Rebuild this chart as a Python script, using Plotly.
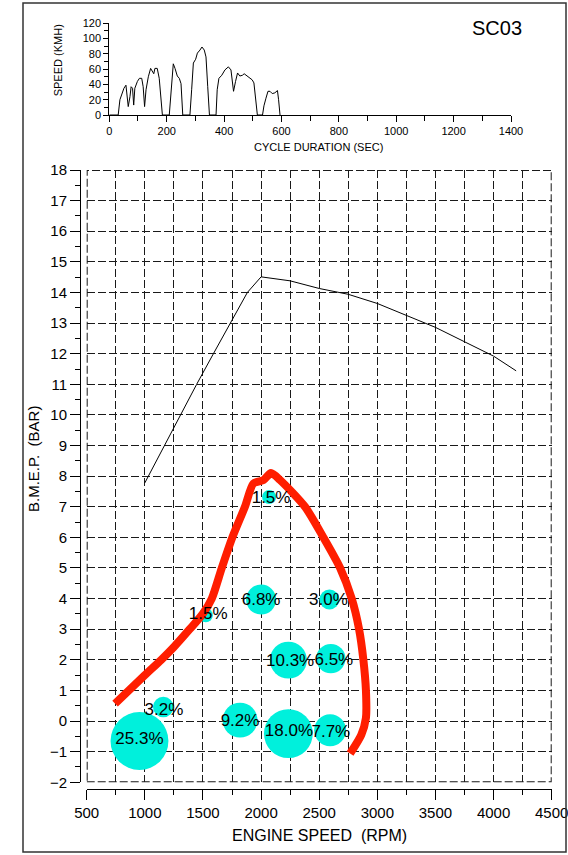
import plotly.graph_objects as go

# ---------------- data ----------------
# drive cycle speed trace (top chart)
cycle_time = [0, 31, 37, 43, 51, 58, 63, 66, 72, 76, 81, 85, 89, 98, 105, 113, 118, 123, 128, 136, 144,
              151, 155, 159, 167, 174, 180, 185, 209, 214, 218, 223, 229, 237, 244, 250, 256, 281, 287,
              293, 301, 307, 316, 323, 331, 337, 343, 349, 372, 376, 382, 392, 403, 415, 424, 429, 433,
              440, 447, 455, 464, 470, 481, 490, 498, 504, 511, 516, 534, 539, 546, 553, 560, 568, 577,
              586, 590, 595]
cycle_speed = [0, 0, 20, 26, 35, 39, 24, 11, 24, 37, 35, 13, 35, 44, 48, 48, 37, 11, 33, 50, 61,
               57, 54, 61, 61, 48, 20, 0, 0, 28, 50, 67, 61, 51, 48, 41, 0, 0, 33,
               68, 73, 81, 85, 89, 85, 76, 37, 0, 0, 33, 48, 52, 59, 63, 59, 46, 31,
               44, 55, 51, 52, 54, 51, 48, 46, 42, 20, 0, 0, 12, 22, 31, 31, 28, 29,
               32, 20, 0]

# full-load BMEP curve
torque_rpm = [1000, 1167, 1304, 1446, 1590, 1739, 1882, 2000, 2250, 2500, 2750, 3000, 3250, 3500, 3750, 4000, 4194]
torque_bmep = [7.78, 9.0, 10.0, 11.0, 12.0, 13.0, 14.0, 14.51, 14.38, 14.13, 13.94, 13.64, 13.26, 12.86, 12.39, 11.92, 11.44]

# red envelope
red_rpm = [744, 1000, 1141, 1250, 1386, 1500, 1576, 1662, 1753, 1861, 1934, 2020, 2086, 2164, 2378, 2536, 2680, 2780, 2843, 2880, 2902, 2902, 2862, 2766]
red_bmep = [0.57, 1.5, 2.0, 2.42, 3.0, 3.51, 4.0, 5.0, 6.0, 7.0, 7.76, 7.87, 8.1, 7.87, 7.0, 6.0, 5.0, 4.0, 3.0, 2.0, 1.0, 0.1, -0.45, -1.06]

# operating-point bubbles (time share, %)
bubble_pct = [25.3, 3.2, 9.2, 18.0, 10.3, 6.8, 1.5, 1.5, 3.0, 6.5, 7.7]
bubble_rpm = [954, 1159, 1819, 2235, 2235, 2000, 1524, 2069, 2588, 2600, 2594]
bubble_bmep = [-0.65, 0.46, 0.03, -0.41, 1.99, 3.97, 3.46, 7.32, 3.97, 2.04, -0.3]
label_rpm = [954, 1165, 1819, 2240, 2250, 2000, 1545, 2086, 2580, 2626, 2600]
label_bmep = [-0.62, 0.35, -0.03, -0.35, 1.93, 3.92, 3.47, 7.25, 3.92, 1.97, -0.37]
bubble_labels = [f"{p:.1f}%" for p in bubble_pct]

# tick values
main_x_ticks = [500, 1000, 1500, 2000, 2500, 3000, 3500, 4000, 4500]
main_y_ticks = list(range(-2, 19))
top_x_ticks = [0, 200, 400, 600, 800, 1000, 1200, 1400]
top_y_ticks = [0, 20, 40, 60, 80, 100, 120]

# ---------------- layout helpers ----------------
W, H = 568, 855
def px(x):
    return x / W
def py(y):
    return (H - y) / H

FONT = "Liberation Sans, Arial, Helvetica, sans-serif"
DASH = "8px,3px"
GRID = dict(gridcolor="#1a1a1a", gridwidth=1, griddash=DASH)

fig = go.Figure()

fig.add_trace(go.Scatter(x=cycle_time, y=cycle_speed, mode="lines",
                         line=dict(color="black", width=1), xaxis="x2", yaxis="y2",
                         hoverinfo="skip", showlegend=False, cliponaxis=False))

fig.add_trace(go.Scatter(x=torque_rpm, y=torque_bmep, mode="lines",
                         line=dict(color="black", width=1), showlegend=False))

fig.add_trace(go.Scatter(x=bubble_rpm, y=bubble_bmep, mode="markers",
                         marker=dict(size=bubble_pct, sizemode="area", sizeref=0.0151,
                                     color="#00F0DC", line=dict(width=0), opacity=1),
                         showlegend=False))

fig.add_trace(go.Scatter(x=red_rpm, y=red_bmep, mode="lines",
                         line=dict(color="#FF1E00", width=8, shape="spline", smoothing=0.7),
                         showlegend=False))

fig.add_trace(go.Scatter(x=label_rpm, y=label_bmep, mode="text", text=bubble_labels,
                         textposition="middle center",
                         textfont=dict(family=FONT, size=17, color="black"),
                         showlegend=False))

fig.update_layout(
    width=W, height=H, margin=dict(l=0, r=0, t=0, b=0, autoexpand=False),
    paper_bgcolor="white", plot_bgcolor="white",
    font=dict(family=FONT, color="black"),
    xaxis=dict(domain=[px(86.7), px(551.7)], range=[500, 4500], anchor="free", position=py(789),
               automargin=False, ticklabeloverflow="allow",
               tickvals=main_x_ticks, ticks="outside", ticklen=10, tickcolor="black",
               showline=True, linecolor="black", linewidth=1, zeroline=False,
               showgrid=True, **GRID,
               minor=dict(dtick=250, tick0=500, ticks="outside", ticklen=5, tickcolor="black",
                          showgrid=True, **GRID),
               tickfont=dict(size=15, family=FONT)),
    yaxis=dict(domain=[py(782.3), py(170)], range=[-2, 18], anchor="free", position=px(80),
               automargin=False, ticklabeloverflow="allow",
               tickvals=main_y_ticks, ticks="outside", ticklen=10, tickcolor="black",
               showline=True, linecolor="black", linewidth=1, zeroline=False,
               showgrid=True, **GRID,
               minor=dict(dtick=0.5, tick0=0, ticks="outside", ticklen=5, tickcolor="black",
                          showgrid=False),
               tickfont=dict(size=15, family=FONT)),
    xaxis2=dict(domain=[px(109.3), px(511)], range=[0, 1400], anchor="y2", automargin=False,
                ticklabeloverflow="allow",
                tickvals=top_x_ticks, ticks="outside", ticklen=6, tickcolor="black",
                showline=True, linecolor="black", linewidth=1, zeroline=False, showgrid=False,
                minor=dict(dtick=100, tick0=0, ticks="outside", ticklen=5, tickcolor="black", showgrid=False),
                tickfont=dict(size=11, family=FONT)),
    yaxis2=dict(domain=[py(115), py(23.3)], range=[0, 120], anchor="x2", automargin=False,
                ticklabeloverflow="allow",
                tickvals=top_y_ticks, ticks="outside", ticklen=5, tickcolor="black",
                showline=True, linecolor="black", linewidth=1, zeroline=False, showgrid=False,
                minor=dict(dtick=10, tick0=0, ticks="outside", ticklen=4, tickcolor="black", showgrid=False),
                tickfont=dict(size=11, family=FONT)),
    shapes=[
        dict(type="rect", xref="paper", yref="paper", x0=px(23), x1=px(566), y0=py(852), y1=py(3),
             line=dict(color="#333", width=1.5)),
        dict(type="rect", xref="x", yref="y", x0=500, x1=4500, y0=-2, y1=18, layer="below",
             line=dict(color="#1a1a1a", width=2, dash=DASH)),
    ],
    annotations=[
        dict(text="SC03", xref="paper", yref="paper", x=px(496.7), y=py(28.3), showarrow=False,
             font=dict(size=20, family=FONT), xanchor="center", yanchor="middle"),
        dict(text="SPEED (KMH)", xref="paper", yref="paper", x=px(58.3), y=py(60), showarrow=False,
             textangle=-90, font=dict(size=11, family=FONT), xanchor="center", yanchor="middle"),
        dict(text="CYCLE DURATION (SEC)", xref="paper", yref="paper", x=px(318.5), y=py(146.7), showarrow=False,
             font=dict(size=11, family=FONT), xanchor="center", yanchor="middle"),
        dict(text="B.M.E.P.\u00a0 (BAR)", xref="paper", yref="paper", x=px(33), y=py(459), showarrow=False,
             textangle=-90, font=dict(size=15, family=FONT), xanchor="center", yanchor="middle"),
        dict(text="ENGINE SPEED\u00a0 (RPM)", xref="paper", yref="paper", x=px(319), y=py(835), showarrow=False,
             font=dict(size=16, family=FONT), xanchor="center", yanchor="middle"),
    ],
)

fig.write_html("out.html")
